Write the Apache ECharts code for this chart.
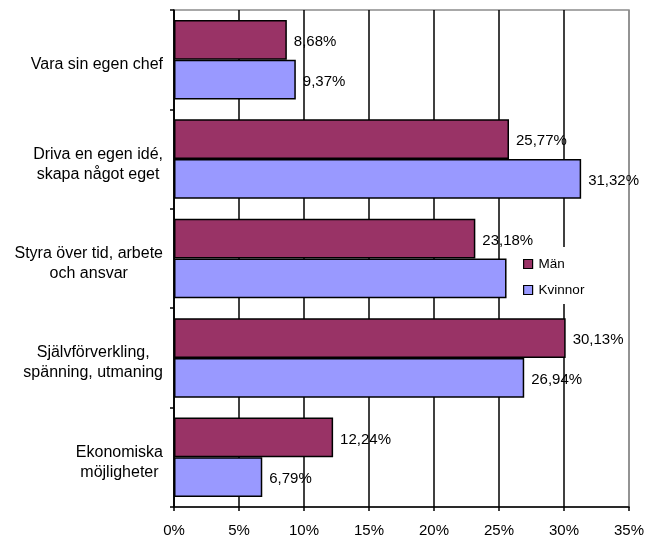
<!DOCTYPE html>
<html>
<head>
<meta charset="utf-8">
<script src="https://cdn.jsdelivr.net/npm/echarts@6/dist/echarts.min.js"></script>
<style>html,body{margin:0;padding:0;background:#fff}#c{width:647px;height:538px}</style>
</head>
<body>
<div id="c"></div>
<script>
const categories = ['Vara sin egen chef', 'Driva en egen idé,\nskapa något eget', 'Styra över tid, arbete\noch ansvar', 'Självförverkling,\nspänning, utmaning', 'Ekonomiska\nmöjligheter'];
const seriesNames = ['Män', 'Kvinnor'];
const manValues = [8.68, 25.77, 23.18, 30.13, 12.24];
const kvinnorValues = [9.37, 31.32, 25.58, 26.94, 6.79];
const kvinnorHiddenLabels = [2];
const xTicks = [0, 5, 10, 15, 20, 25, 30, 35];

const FONT = 'Liberation Sans, Arial, sans-serif';
const fmt = v => v.toFixed(2).replace('.', ',') + '%';

const chart = echarts.init(document.getElementById('c'), null, {renderer: 'canvas'});
chart.setOption({
  animation: false,
  backgroundColor: '#fff',
  textStyle: {fontFamily: FONT, color: '#000'},
  grid: {left: 174, right: 17, top: 10, bottom: 30, show: true, borderColor: '#8c8c8c', borderWidth: 1.5, backgroundColor: 'transparent'},
  legend: {
    orient: 'vertical', left: 513, top: 247,
    backgroundColor: '#fff', padding: [10, 10, 7, 10], itemGap: 12,
    itemWidth: 9, itemHeight: 9, icon: 'rect',
    itemStyle: {borderColor: '#000', borderWidth: 1.2},
    textStyle: {fontFamily: FONT, fontSize: 13.5, color: '#000', padding: [0, 0, 0, 1]},
    data: seriesNames
  },
  xAxis: {
    type: 'value', min: xTicks[0], max: xTicks[xTicks.length - 1], interval: 5,
    axisLine: {show: true, lineStyle: {color: '#000', width: 1.5}},
    axisTick: {show: true, length: 4, lineStyle: {color: '#000', width: 1.5}},
    axisLabel: {fontFamily: FONT, fontSize: 15, color: '#000', margin: 16, formatter: v => v + '%'},
    splitLine: {show: true, lineStyle: {color: ['#000', '#000', '#000', '#000', '#000', '#000', '#000', '#8c8c8c'], width: 1.5}}
  },
  yAxis: {
    type: 'category', inverse: true, data: categories,
    axisLine: {show: true, lineStyle: {color: '#000', width: 1.5}},
    axisTick: {show: true, length: 4, lineStyle: {color: '#000', width: 1.5}},
    axisLabel: {
      margin: 11, fontFamily: FONT, fontSize: 16, color: '#000', padding: [10, 0, 0, 0],
      formatter: v => v.split('\n').map(l => '{c|' + l + '}').join('\n'),
      rich: {c: {align: 'center', fontFamily: FONT, fontSize: 16, lineHeight: 20, color: '#000'}}
    }
  },
  series: [
    {
      name: seriesNames[0], type: 'bar', data: manValues,
      barGap: '0%', barCategoryGap: '20%',
      itemStyle: {color: '#993366', borderColor: '#000', borderWidth: 1.5},
      label: {show: true, position: 'right', distance: 7, offset: [0, 2], fontFamily: FONT, fontSize: 15, color: '#000', formatter: p => fmt(p.value)}
    },
    {
      name: seriesNames[1], type: 'bar',
      data: kvinnorValues.map((v, i) => kvinnorHiddenLabels.includes(i) ? {value: v, label: {show: false}} : v),
      barGap: '0%', barCategoryGap: '20%',
      itemStyle: {color: '#9999FF', borderColor: '#000', borderWidth: 1.5},
      label: {show: true, position: 'right', distance: 7, offset: [0, 2], fontFamily: FONT, fontSize: 15, color: '#000', formatter: p => fmt(p.value)}
    }
  ]
});
</script>
</body>
</html>
